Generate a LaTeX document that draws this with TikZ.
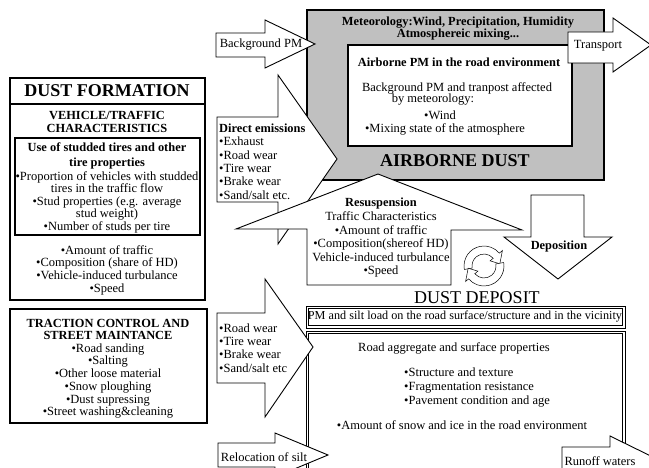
\documentclass[tikz,border=0pt]{standalone}
\usepackage{fontspec}
\setmainfont{Liberation Serif}
\usepackage{tikz}
\definecolor{airgray}{RGB}{192,192,192}

\begin{document}
\begin{tikzpicture}[
      x=1pt, y=-1pt,
      every node/.style={inner sep=0pt},
      blockarrow/.style={draw, fill=white, line width=0.9pt, line join=miter},
      panel/.style={draw, line width=1.1pt},
      thinpanel/.style={draw, line width=0.7pt},
      recycle/.style={draw, fill=white, line width=0.5pt},
      txt/.style={font=\fontsize{12.5}{13.4}\selectfont, align=center},
      btxt/.style={font=\bfseries\fontsize{12.4}{13}\selectfont, align=center},
      bigtitle/.style={font=\bfseries\fontsize{18}{20}\selectfont}
    ]
    \useasboundingbox (0,0) rectangle (649,468);
    \clip (0,0) rectangle (649,468);

    % Dust formation panel on the left
    \draw[panel] (10,78) rectangle (205,300);
    \draw[panel] (10,104) -- (205,104);
    \draw[panel] (15,138) rectangle (200,235);
    \node[bigtitle] (dustform) at (107,91) {DUST FORMATION};
    \node[btxt] (vehchar) at (107,121.5) {VEHICLE/TRAFFIC\\CHARACTERISTICS};
    \node[btxt, font=\bfseries\fontsize{12.4}{15}\selectfont] (studuse) at (107,155.5) {Use of studded tires and other\\tire properties};
    \node[txt, font=\fontsize{12.5}{12.5}\selectfont] (studlist) at (107,202) {•Proportion of vehicles with studded\\tires in the traffic flow\\•Stud properties (e.g. average\\stud weight)\\•Number of studs per tire};
    \node[txt, font=\fontsize{12.5}{12.7}\selectfont] (trafficlist) at (107,270) {•Amount of traffic\\•Composition (share of HD)\\•Vehicle-induced turbulance\\•Speed};

    % Traction control panel
    \draw[panel] (10,309) rectangle (207,423);
    \node[btxt, font=\bfseries\fontsize{12.4}{12.6}\selectfont] (tractitle) at (108,329.5) {TRACTION CONTROL AND\\STREET MAINTANCE};
    \node[txt, font=\fontsize{12.5}{12.7}\selectfont] (traclist) at (108,381) {•Road sanding\\•Salting\\•Other loose material\\•Snow ploughing\\•Dust supressing\\•Street washing\&cleaning};

    % Airborne dust box
    \draw[panel, fill=airgray] (307,10) rectangle (604,180);
    \draw[panel, fill=white] (348,45) rectangle (572,146);
    \node[btxt, font=\bfseries\fontsize{12.4}{12}\selectfont] (meteo) at (458,29) {Meteorology:Wind, Precipitation, Humidity\\Atmosphereic mixing...};
    \node[btxt] (airpm) at (459,62) {Airborne PM in the road environment};
    \node[txt] (bgline) at (457,88) {Background PM and tranpost affected};
    \node[txt] (metline) at (433,100) {by meteorology:};
    \node[txt] (windline) at (440,115) {•Wind};
    \node[txt] (mixline) at (445,129) {•Mixing state of the atmosphere};
    \node[bigtitle] (airdust) at (455,161) {AIRBORNE DUST};

    % Background PM and transport arrows
    \draw[blockarrow] (216,33) -- (265,33) -- (265,20) -- (315,44) -- (265,68) -- (265,57) -- (216,57) -- cycle;
    \node[txt] (bgpm) at (261,45) {Background PM};
    \draw[blockarrow] (568,32) -- (613,32) -- (613,18) -- (651,45) -- (613,72) -- (613,63) -- (568,63) -- cycle;
    \node[txt] (transport) at (598,46) {Transport};

    % Direct emissions arrow
    \draw[blockarrow] (217,117) -- (278,117) -- (278,75) -- (337,159) -- (278,244) -- (278,202) -- (217,202) -- cycle;
    \node[txt, align=left, anchor=west, font=\fontsize{12.5}{13.4}\selectfont] (direct) at (219,161.5) {\textbf{\fontsize{12.4}{13.4}\selectfont Direct emissions}\\•Exhaust\\•Road wear\\•Tire wear\\•Brake wear\\•Sand/salt etc.};

    % Resuspension arrow
    \draw[blockarrow] (307,285) -- (307,229) -- (236,229) -- (378,174) -- (522,230) -- (451,230) -- (451,285) -- cycle;
    \node[txt, font=\fontsize{12.5}{13.6}\selectfont] (resusp) at (381,238) {\textbf{\fontsize{12.4}{13.6}\selectfont Resuspension}\\Traffic Characteristics\\•Amount of traffic\\•Composition(shereof HD)\\Vehicle-induced turbulance\\•Speed};

    % Deposition arrow
    \draw[blockarrow] (531,195) -- (584,195) -- (584,237) -- (612,237) -- (558,279) -- (504,237) -- (531,237) -- cycle;
    \node[btxt] (depos) at (559,247) {Deposition};

    % Recycling symbol
    \begin{scope}[shift={(484,266)}, yscale=-1]
      \draw[recycle] (190:20) arc[start angle=190, end angle=40, radius=20] -- (40:24) -- (8:16) -- (40:8) -- (40:12) arc[start angle=40, end angle=190, radius=12] -- cycle;
      \begin{scope}[rotate=180]
        \draw[recycle] (190:20) arc[start angle=190, end angle=40, radius=20] -- (40:24) -- (8:16) -- (40:8) -- (40:12) arc[start angle=40, end angle=190, radius=12] -- cycle;
      \end{scope}
    \end{scope}

    % Dust deposit
    \node[font=\fontsize{18}{20}\selectfont] (dustdep) at (477,298) {DUST DEPOSIT};
    \draw[thinpanel] (306,306) rectangle (625,328);
    \draw[thinpanel] (308.5,308.5) rectangle (622.5,325.5);
    \node[txt, font=\fontsize{12.2}{13}\selectfont] (pmload) at (465,317) {PM and silt load on the road surface/structure and in the vicinity};
    \draw[thinpanel] (306,331) rectangle (625,490);
    \draw[thinpanel] (308.5,333.5) rectangle (622.5,490);
    \node[txt] (roadagg) at (454,348) {Road aggregate and surface properties};
    \node[txt, align=left, anchor=west, font=\fontsize{12.5}{14}\selectfont] (roadprops) at (404,388) {•Structure and texture\\•Fragmentation resistance\\•Pavement condition and age};
    \node[txt] (snowice) at (462,425) {•Amount of snow and ice in the road environment};

    % Road wear arrow
    \draw[blockarrow] (217,313) -- (265,313) -- (265,279) -- (313,347) -- (265,417) -- (265,383) -- (217,383) -- cycle;
    \node[txt, align=left, anchor=west, font=\fontsize{12.5}{13.3}\selectfont] (roadwear) at (219,348) {•Road wear\\•Tire wear\\•Brake wear\\•Sand/salt etc};

    % Relocation and runoff arrows
    \draw[blockarrow] (218,443) -- (275,443) -- (275,433) -- (328,455) -- (275,477) -- (275,467) -- (218,467) -- cycle;
    \node[txt] (reloc) at (264,457) {Relocation of silt};
    \draw[blockarrow] (562,447) -- (610,447) -- (610,436) -- (665,463) -- (610,490) -- (610,480) -- (562,480) -- cycle;
    \node[txt] (runoff) at (600,461) {Runoff waters};
  \end{tikzpicture}
\end{document}
